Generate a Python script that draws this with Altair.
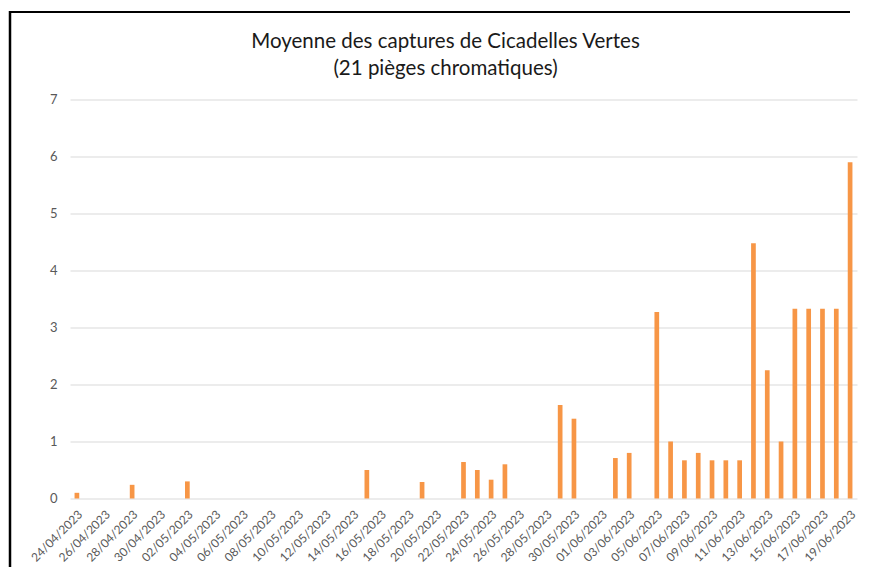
import altair as alt
import pandas as pd

# Categories: every day from 24/04/2023 to 19/06/2023
dates = [d.strftime("%d/%m/%Y") for d in pd.date_range("2023-04-24", "2023-06-19", freq="D")]

# Mean captures per day
values = [
    0.10, 0, 0, 0, 0.24, 0, 0, 0, 0.30, 0,      # 24/04 - 03/05
    0, 0, 0, 0, 0, 0, 0, 0, 0, 0,               # 04/05 - 13/05
    0, 0.50, 0, 0, 0, 0.29, 0, 0, 0.64, 0.50,   # 14/05 - 23/05
    0.33, 0.60, 0, 0, 0, 1.64, 1.40, 0, 0, 0.71,  # 24/05 - 02/06
    0.80, 0, 3.27, 1.00, 0.67, 0.80, 0.67, 0.67, 0.67, 4.48,  # 03/06 - 12/06
    2.25, 1.00, 3.33, 3.33, 3.33, 3.33, 5.90,   # 13/06 - 19/06
]

tick_labels = dates[::2]
y_ticks = [0, 1, 2, 3, 4, 5, 6, 7]

title_lines = ["Moyenne des captures de Cicadelles Vertes", "(21 pièges chromatiques)"]

df = pd.DataFrame({"date": dates, "value": values})

FONT = "Lato"
GREY = "#595959"

bars = alt.Chart(df).mark_bar(color="#F79646").encode(
    x=alt.X(
        "date:N",
        sort=dates,
        scale=alt.Scale(paddingInner=0.66, paddingOuter=0.33),
        axis=alt.Axis(
            title=None,
            values=tick_labels,
            labelAngle=-45,
            labelFont=FONT,
            labelFontSize=12,
            labelColor=GREY,
            labelPadding=10,
            domain=False,
            ticks=False,
            grid=False,
        ),
    ),
    y=alt.Y(
        "value:Q",
        scale=alt.Scale(domain=[0, 7], nice=False),
        axis=alt.Axis(
            title=None,
            values=y_ticks,
            format="d",
            labelFont=FONT,
            labelFontSize=13,
            labelColor=GREY,
            labelPadding=13,
            domain=False,
            ticks=False,
            gridColor="#d9d9d9",
            gridWidth=1,
        ),
    ),
)

frame = alt.Data(values=[{"k": 1}])
border_top = alt.Chart(frame).mark_rule(color="black", strokeWidth=2).encode(
    x=alt.value(-61), x2=alt.value(780), y=alt.value(-87.5), y2=alt.value(-87.5)
)
border_left = alt.Chart(frame).mark_rule(color="black", strokeWidth=2.5).encode(
    x=alt.value(-60), x2=alt.value(-60), y=alt.value(-88.5), y2=alt.value(480)
)

chart = (
    alt.layer(bars, border_top, border_left)
    .properties(
        width=787,
        height=399,
        title=alt.TitleParams(
            title_lines,
            font=FONT,
            fontSize=20.5,
            fontWeight="normal",
            color="#1a1a1a",
            anchor="middle",
            frame="group",
            baseline="alphabetic",
            lineHeight=27.4,
            offset=0,
            dy=86,
            dx=-18,
        ),
        autosize=alt.AutoSizeParams(type="none"),
        padding={"left": 62, "top": 91.5, "right": 6, "bottom": 68.5},
    )
    .configure_view(strokeWidth=0)
)

chart.save("out.html", embed_options={"renderer": "svg", "actions": False})
